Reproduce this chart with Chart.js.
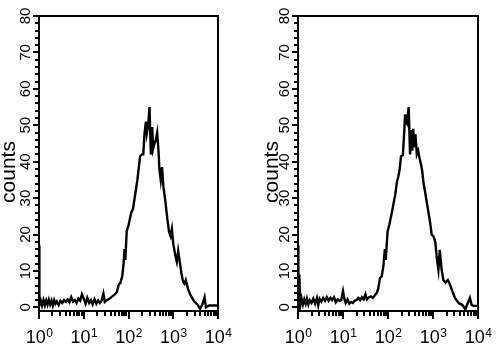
<!DOCTYPE html>
<html>
<head>
<meta charset="utf-8">
<script src="https://cdn.jsdelivr.net/npm/chart.js@4.4.1/dist/chart.umd.min.js"></script>
<style>
  html, body { margin: 0; padding: 0; background: #fff; }
  .wrap { display: flex; width: 500px; height: 357px; }
  .cell { width: 250px; height: 357px; }
  canvas { display: block; }
</style>
</head>
<body>
<div class="wrap">
  <div class="cell"><canvas id="chartLeft" width="250" height="357"></canvas></div>
  <div class="cell"><canvas id="chartRight" width="250" height="357"></canvas></div>
</div>
<script>
// fluorescence channel (x) and event counts (y)
const leftX = [1, 1.02, 1.10, 1.17, 1.26, 1.35, 1.45, 1.55, 1.66, 1.78, 1.91, 2.04, 2.19, 2.34, 2.51,
  2.75, 3.02, 3.31, 3.63, 3.98, 4.37, 4.79, 5.25, 5.75, 6.31, 6.92, 7.59, 8.32, 9.12, 10,
  11.0, 12.0, 13.2, 14.5, 15.8, 17.4, 19.1, 20.9, 22.9, 25.1, 27.5, 29.5, 33.1, 38.0, 43.7,
  50.1, 55.0, 60.3, 66.1, 72.4, 77.6, 81.3, 85.1, 91.2, 100, 115, 126, 141, 158, 174,
  182, 200, 214, 229, 245, 257, 275, 295, 309, 316, 339, 355, 380, 407, 437,
  468, 490, 525, 562, 603, 661, 741, 813, 871, 933, 1000, 1122, 1202, 1288, 1380,
  1514, 1660, 1778, 1905, 2138, 2512, 2951, 3467, 3981, 4467, 5012, 5370, 6310, 7943, 10000];
const leftCounts = [17, 0.6, 1.8, 0.5, 2.0, 0.6, 1.9, 0.7, 2.1, 0.8, 1.9, 0.5, 2.0, 1.0, 1.6,
  0.6, 1.8, 1.2, 2.0, 1.5, 2.2, 1.4, 2.8, 1.6, 2.0, 1.2, 2.4, 1.8, 3.6, 2.4,
  1.0, 2.6, 1.2, 2.0, 0.8, 2.2, 1.0, 1.9, 1.2, 1.8, 3.8, 1.5, 2.0, 2.4, 3.0,
  3.6, 4.2, 6.2, 6.8, 8.5, 12, 16, 13, 21, 22.5, 26, 27, 31, 35, 39.6,
  41.5, 42, 42, 48, 51, 47.8, 50, 55, 46, 42, 49.5, 43.5, 45, 46, 48,
  43, 38, 35, 38.5, 33, 29.5, 24, 20.5, 19.5, 21.5, 17.5, 14, 12.5, 15.5, 13,
  9.5, 7, 6.5, 7.5, 5, 3, 1.6, 0.8, -0.4, 0.8, 2.8, 0, 0.5, 0.5, 0.5];

const rightX = [1, 1.02, 1.07, 1.12, 1.20, 1.29, 1.38, 1.48, 1.58, 1.70, 1.82, 2.00, 2.19, 2.40, 2.63,
  2.82, 3.02, 3.31, 3.63, 3.98, 4.37, 4.79, 5.25, 5.75, 6.31, 6.92, 7.59, 8.32, 9.12, 10,
  10.7, 11.5, 12.6, 13.8, 15.1, 16.6, 18.2, 20.0, 21.9, 24.0, 26.3, 28.8, 31.6, 33.9, 38.0,
  41.7, 45.7, 50.1, 56.2, 60.3, 66.1, 72.4, 79.4, 85.1, 89.1, 97.7, 107, 126, 145, 158,
  170, 182, 195, 214, 229, 240, 251, 263, 288, 309, 331, 347, 363, 389, 407,
  437, 468, 501, 537, 575, 617, 661, 724, 794, 871, 933, 1023, 1122, 1230, 1318,
  1413, 1549, 1698, 1905, 2138, 2344, 2630, 3090, 3715, 4467, 5248, 5754, 6607, 7244, 7943, 10000];
const rightCounts = [17, 0.4, 9, 0.4, 2.5, 0.8, 2.2, 1.0, 2.4, 0.8, 2.0, 1.2, 2.4, 1.0, 2.6,
  0.6, 2.4, 1.6, 2.6, 1.8, 2.8, 1.8, 2.6, 2.0, 2.8, 1.4, 2.2, 1.8, 2.0, 4.5,
  2.4, 1.2, 2.2, 1.0, 1.5, 1.2, 1.8, 2.0, 2.6, 2.0, 2.8, 2.2, 3.6, 2.2, 2.8,
  3.0, 2.6, 3.2, 4.0, 5.0, 8.0, 8.5, 11.5, 16, 13, 20.8, 22.6, 27, 31, 34.5,
  36, 38, 41.5, 41.8, 48, 53, 51, 50.5, 55, 42, 48.7, 43, 49, 44, 47.5,
  42, 43, 41, 39.5, 37.5, 34, 32, 29, 26, 23, 20, 19.5, 18, 13, 10.3,
  15.8, 10.5, 7.5, 6.8, 7.5, 6.5, 4.8, 2.5, 1.2, 0.7, -0.5, 0.8, 2.6, 0.6, 0.4, 0.4];

const yTicks = [0, 10, 20, 30, 40, 50, 60, 70, 80];
const xDecades = [0, 1, 2, 3, 4];   // labels 10^0 .. 10^4
const yTitle = 'counts';

const FONT = '"Liberation Sans", Arial, Helvetica, sans-serif';

// draws the boxed frame, ticks and labels on the chart's own scales
const flowAxes = {
  id: 'flowAxes',
  afterDraw(chart, args, opts) {
    const ctx = chart.ctx;
    const xs = chart.scales.x, ys = chart.scales.y;
    const a = chart.chartArea;
    ctx.save();
    ctx.strokeStyle = '#000';
    ctx.fillStyle = '#000';
    ctx.lineWidth = 2;

    ctx.beginPath();
    ctx.rect(a.left, a.top, a.right - a.left, a.bottom - a.top);
    ctx.stroke();

    // y ticks: major every 10, minor every 2
    for (let v = 0; v <= 80; v += 2) {
      const py = Math.round(ys.getPixelForValue(v));
      const len = v % 10 === 0 ? 6 : 4;
      ctx.beginPath();
      ctx.moveTo(a.left, py);
      ctx.lineTo(a.left - len, py);
      ctx.stroke();
    }
    // x ticks: major at decades, minor at 2..9
    xDecades.forEach(e => {
      const base = Math.pow(10, e);
      const steps = e < 4 ? [1, 2, 3, 4, 5, 6, 7, 8, 9] : [1];
      steps.forEach(m => {
        const px = Math.round(xs.getPixelForValue(base * m));
        const len = m === 1 ? 8 : 5;
        ctx.beginPath();
        ctx.moveTo(px, a.bottom);
        ctx.lineTo(px, a.bottom + len);
        ctx.stroke();
      });
    });

    // y tick labels, rotated
    ctx.font = '15px ' + FONT;
    ctx.textAlign = 'center';
    ctx.textBaseline = 'alphabetic';
    yTicks.forEach(v => {
      ctx.save();
      ctx.translate(a.left - 9, ys.getPixelForValue(v));
      ctx.rotate(-Math.PI / 2);
      ctx.fillText(String(v), 0, 0);
      ctx.restore();
    });

    // x tick labels 10^n
    ctx.textAlign = 'left';
    xDecades.forEach(e => {
      const px = xs.getPixelForValue(Math.pow(10, e));
      ctx.font = '18px ' + FONT;
      const w1 = ctx.measureText('10').width;
      ctx.font = '12px ' + FONT;
      const w2 = ctx.measureText(String(e)).width;
      const start = px - (w1 + w2) / 2;
      ctx.font = '18px ' + FONT;
      ctx.fillText('10', start, a.bottom + 31.5);
      ctx.font = '12px ' + FONT;
      ctx.fillText(String(e), start + w1 + 0.5, a.bottom + 26);
    });

    // axis title
    ctx.font = '21px ' + FONT;
    ctx.textAlign = 'center';
    ctx.save();
    ctx.translate(opts.titleX, 172);
    ctx.rotate(-Math.PI / 2);
    ctx.fillText(yTitle, 0, 0);
    ctx.restore();

    ctx.restore();
  }
};

function makeHist(id, xVals, counts, padLeft, padRight, titleX) {
  new Chart(document.getElementById(id), {
    type: 'line',
    data: {
      datasets: [{
        data: xVals.map((v, i) => ({ x: v, y: counts[i] })),
        borderColor: '#000',
        borderWidth: 2.4,
        pointRadius: 0,
        fill: false,
        tension: 0
      }]
    },
    options: {
      responsive: false,
      animation: false,
      layout: { padding: { left: padLeft, right: padRight, top: 16, bottom: 46 } },
      scales: {
        x: { type: 'logarithmic', min: 1, max: 10000, display: false },
        y: { type: 'linear', min: -1, max: 80, display: false }
      },
      plugins: {
        legend: { display: false },
        tooltip: { enabled: false },
        flowAxes: { titleX: titleX }
      }
    },
    plugins: [flowAxes]
  });
}

makeHist('chartLeft', leftX, leftCounts, 39, 32, 15);
makeHist('chartRight', rightX, rightCounts, 48, 22, 28);
</script>
</body>
</html>
